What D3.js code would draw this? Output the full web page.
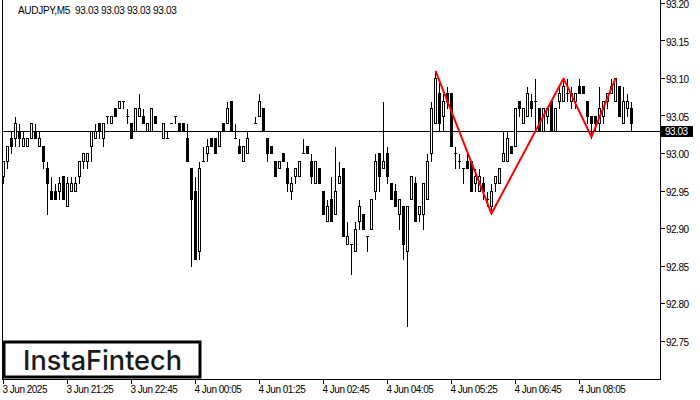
<!DOCTYPE html>
<html><head><meta charset="utf-8">
<script src="https://cdn.jsdelivr.net/npm/d3@7"></script>
<style>html,body{margin:0;padding:0;background:#fff;} svg{display:block;}</style>
</head><body><svg id="c" width="700" height="400"></svg>
<script>
const symbol = "AUDJPY,M5";
const titleQuote = "93.03 93.03 93.03 93.03";
const openP = [
92.97,92.99,93.02,93.02,93.03,93.01,93.01,93.02,93.03,93.01,
93.01,92.98,92.95,92.95,92.95,92.97,92.93,92.95,92.95,92.97,
92.99,92.99,93.01,93.02,93.04,93.02,93.05,93.04,93.06,93.06,
93.07,93.05,93.04,93.03,93.05,93.05,93.03,93.03,93.05,93.03,
93.02,93.02,93.04,93.05,93.04,93.04,93.02,92.98,92.95,92.87,
92.99,93.00,93.02,93.02,93.01,93.04,93.04,93.07,93.02,93.01,
92.99,93.00,93.03,93.04,93.05,93.06,93.02,93.01,92.99,92.98,
93.00,92.98,92.95,92.97,92.97,93.00,93.01,92.99,92.96,92.98,
92.95,92.91,92.94,92.92,92.96,92.98,92.88,92.88,92.87,92.91,
92.92,92.89,92.90,92.95,93.00,92.98,93.00,92.96,92.95,92.92,
92.93,92.87,92.94,92.96,92.92,92.92,92.94,93.00,93.04,93.08,
93.05,93.08,93.08,93.00,92.99,92.98,92.99,92.99,92.96,92.95,
92.96,92.94,92.93,92.96,92.96,92.99,92.99,93.01,93.01,93.07,
93.04,93.05,93.07,93.07,93.06,93.03,93.05,93.07,93.03,93.07,
93.07,93.08,93.07,93.07,93.09,93.09,93.07,93.05,93.05,93.04,
93.05,93.07,93.08,93.07,93.09,93.04,93.06,93.06,93.03];
const highP = [
92.99,93.01,93.03,93.05,93.04,93.03,93.02,93.04,93.04,93.03,
93.01,92.99,92.97,92.96,92.97,92.97,92.97,92.97,92.97,92.99,
93.00,93.00,93.03,93.04,93.04,93.04,93.05,93.05,93.06,93.07,
93.07,93.06,93.04,93.06,93.08,93.06,93.04,93.06,93.05,93.03,
93.04,93.03,93.04,93.05,93.04,93.04,93.04,92.98,92.97,92.99,
93.01,93.02,93.02,93.02,93.03,93.04,93.07,93.07,93.04,93.02,
93.01,93.03,93.03,93.05,93.08,93.06,93.02,93.01,92.99,92.99,
93.00,92.99,92.97,92.98,92.99,93.02,93.01,93.00,92.99,92.98,
92.95,92.94,92.97,93.01,92.99,92.98,92.91,92.88,92.91,92.94,
92.92,92.89,92.94,93.00,93.00,93.07,93.01,92.96,92.96,92.94,
92.93,92.93,92.97,92.97,92.93,92.96,93.00,93.07,93.11,93.10,
93.08,93.09,93.08,93.01,93.00,92.98,93.00,92.99,92.98,92.98,
92.97,92.95,92.96,92.97,92.98,93.03,93.03,93.01,93.06,93.07,
93.06,93.09,93.08,93.10,93.06,93.06,93.06,93.07,93.06,93.09,
93.10,93.10,93.09,93.08,93.10,93.09,93.07,93.05,93.05,93.09,
93.07,93.08,93.10,93.10,93.09,93.09,93.08,93.07,93.03];
const lowP = [
92.96,92.98,93.00,93.01,93.01,93.01,93.01,93.02,93.02,93.01,
92.98,92.92,92.94,92.94,92.94,92.94,92.93,92.95,92.95,92.96,
92.98,92.98,92.99,93.02,93.02,93.01,93.04,93.04,93.05,93.06,
93.06,93.04,93.02,93.03,93.05,93.04,93.03,93.03,93.04,93.03,
93.02,93.02,93.04,93.04,93.03,93.03,92.99,92.85,92.86,92.86,
92.99,92.99,93.01,93.00,93.01,93.03,93.04,93.03,93.02,93.00,
92.99,93.00,93.03,93.04,93.05,93.03,92.99,93.00,92.97,92.98,
92.99,92.95,92.94,92.96,92.97,93.00,93.00,92.96,92.96,92.96,
92.92,92.91,92.91,92.92,92.96,92.89,92.88,92.84,92.87,92.90,
92.90,92.87,92.90,92.94,92.95,92.98,92.96,92.94,92.93,92.90,
92.86,92.77,92.94,92.91,92.91,92.90,92.94,92.99,93.04,93.03,
93.03,93.06,93.01,92.98,92.98,92.96,92.98,92.95,92.95,92.95,
92.94,92.93,92.92,92.95,92.96,92.99,92.99,93.00,93.01,93.05,
93.04,93.05,93.05,93.03,93.03,93.03,93.04,93.03,93.03,93.06,
93.07,93.07,93.06,93.06,93.08,93.08,93.04,93.02,93.03,93.03,
93.04,93.06,93.08,93.07,93.05,93.04,93.05,93.03,93.03];
const closeP = [
92.99,93.01,93.01,93.04,93.02,93.02,93.02,93.04,93.02,93.02,
92.99,92.96,92.94,92.94,92.96,92.94,92.96,92.96,92.96,92.99,
93.00,93.00,93.03,93.03,93.03,93.04,93.05,93.05,93.05,93.07,
93.07,93.05,93.02,93.06,93.06,93.04,93.04,93.06,93.04,93.03,
93.04,93.02,93.04,93.05,93.03,93.03,92.99,92.94,92.86,92.98,
92.99,93.01,93.01,93.00,93.03,93.03,93.06,93.03,93.02,93.00,
93.01,93.02,93.03,93.04,93.07,93.03,93.00,93.00,92.97,92.99,
92.99,92.96,92.96,92.98,92.99,93.00,93.00,92.97,92.99,92.96,
92.92,92.93,92.91,92.95,92.97,92.89,92.89,92.88,92.90,92.93,
92.90,92.89,92.94,92.99,92.97,92.99,92.97,92.94,92.93,92.94,
92.88,92.93,92.97,92.91,92.93,92.96,92.99,93.06,93.10,93.04,
93.07,93.07,93.01,93.00,92.99,92.98,92.98,92.95,92.97,92.97,
92.95,92.94,92.95,92.97,92.98,93.00,93.02,93.00,93.06,93.06,
93.06,93.08,93.06,93.07,93.03,93.06,93.06,93.03,93.06,93.08,
93.09,93.08,93.08,93.08,93.08,93.08,93.05,93.04,93.04,93.06,
93.07,93.08,93.09,93.10,93.05,93.07,93.07,93.04,93.03];
const bidPrice = 93.03;
const bidLabel = "93.03";
const xTickIndex = [0,16,32,48,64,80,96,112,128,144];
const xTickLabels = ["3 Jun 2025","3 Jun 21:25","3 Jun 22:45","4 Jun 00:05","4 Jun 01:25","4 Jun 02:45","4 Jun 04:05","4 Jun 05:25","4 Jun 06:45","4 Jun 08:05"];
const yTicks = [93.20,93.15,93.10,93.05,93.00,92.95,92.90,92.85,92.80,92.75];
const patternIndex = [108,122,140,147,153];
const patternPrice = [93.11,92.92,93.10,93.022,93.10];
const brand = "InstaFintech";

const svg = d3.select("#c");
svg.append("rect").attr("width",700).attr("height",400).attr("fill","#fff");

const n = openP.length;
const x = d3.scaleLinear().domain([0, n-1]).range([3.5, 3.5 + 4*(n-1)]);
const y = d3.scaleLinear().domain([92.6995, 93.2045]).range([379, 0]);
const px = v => Math.round(v) + 0.5;

const font = "'Liberation Sans', Arial, sans-serif";

// title
svg.append("text").attr("x",18).attr("y",14)
  .attr("font-family",font).attr("font-size",10).attr("letter-spacing","-0.3px")
  .attr("fill","#000").attr("xml:space","preserve")
  .text(symbol + "  " + titleQuote);

// bid line
svg.append("line").attr("x1",3).attr("x2",661).attr("y1",px(y(bidPrice))).attr("y2",px(y(bidPrice)))
  .attr("stroke","#000").attr("stroke-width",1).attr("shape-rendering","crispEdges");

// candles
const data = d3.range(n).map(i => ({i, o:openP[i], h:highP[i], l:lowP[i], c:closeP[i]}));
const g = svg.append("g").attr("shape-rendering","crispEdges");
g.selectAll("line.w").data(data).join("line").attr("class","w")
  .attr("x1",d=>x(d.i)).attr("x2",d=>x(d.i))
  .attr("y1",d=>px(y(d.h))).attr("y2",d=>px(y(d.l)))
  .attr("stroke","#000").attr("stroke-width",1);
data.forEach(d => {
  const yt = px(y(Math.max(d.o,d.c))), yb = px(y(Math.min(d.o,d.c)));
  const cx = x(d.i);
  if (yb - yt < 1) {
    g.append("line").attr("x1",cx-1.5).attr("x2",cx+1.5).attr("y1",yt).attr("y2",yt)
      .attr("stroke","#000").attr("stroke-width",1);
  } else {
    g.append("rect").attr("x",cx-1).attr("width",2).attr("y",yt).attr("height",yb-yt)
      .attr("fill", d.c > d.o ? "#fff" : "#000").attr("stroke","#000").attr("stroke-width",1);
  }
});

// pattern line
svg.append("path")
  .datum(patternIndex.map((v,k)=>[v, patternPrice[k]]))
  .attr("d", d3.line().x(d=>x(d[0])).y(d=>y(d[1])))
  .attr("fill","none").attr("stroke","#ff0000").attr("stroke-width",2).attr("stroke-linejoin","round");

// frame
svg.append("line").attr("x1",2.5).attr("x2",2.5).attr("y1",0).attr("y2",380).attr("stroke","#000").attr("shape-rendering","crispEdges");
svg.append("line").attr("x1",2).attr("x2",661).attr("y1",379.5).attr("y2",379.5).attr("stroke","#000").attr("shape-rendering","crispEdges");
svg.append("line").attr("x1",660.5).attr("x2",660.5).attr("y1",0).attr("y2",380).attr("stroke","#000").attr("shape-rendering","crispEdges");

// x axis
const xa = svg.append("g").attr("transform","translate(0,379.5)")
  .call(d3.axisBottom(x).tickValues(xTickIndex).tickFormat((d,k)=>xTickLabels[k]).tickSize(4).tickSizeOuter(0).offset(0));
xa.select(".domain").remove();
xa.selectAll("line").attr("shape-rendering","crispEdges");
xa.selectAll("text").attr("x",-1).attr("y",13).attr("dy",null).attr("text-anchor","start")
  .attr("font-family",font).attr("font-size",10).attr("letter-spacing","-0.5px").attr("fill","#000");

// y axis
const ya = svg.append("g").attr("transform","translate(660.5,0)")
  .call(d3.axisRight(y).tickValues(yTicks).tickFormat(d3.format(".2f")).tickSize(4).tickSizeOuter(0).offset(0));
ya.select(".domain").remove();
ya.selectAll("line").attr("shape-rendering","crispEdges");
ya.selectAll("text").attr("x",5.5).attr("dy",null).attr("y",4.8).attr("text-anchor","start")
  .attr("font-family",font).attr("font-size",10).attr("letter-spacing","-0.5px").attr("fill","#000");

// bid label
const by = y(bidPrice);
svg.append("rect").attr("x",661).attr("y",Math.round(by)-5).attr("width",32).attr("height",11).attr("fill","#000");
svg.append("text").attr("x",665).attr("y",by+4.5).attr("font-family",font).attr("font-size",10)
  .attr("letter-spacing","-0.5px").attr("fill","#fff").text(bidLabel);

// logo
svg.append("rect").attr("x",4).attr("y",342).attr("width",196).attr("height",35)
  .attr("fill","#fff").attr("stroke","#000").attr("stroke-width",3);
svg.append("text").attr("x",23).attr("y",369.5)
  .attr("font-family","Inter, 'Open Sans', sans-serif").attr("font-weight",500).attr("font-size",27.5)
  .attr("textLength",159).attr("lengthAdjust","spacingAndGlyphs")
  .attr("fill","#1a1a1a").text(brand);
</script></body></html>
